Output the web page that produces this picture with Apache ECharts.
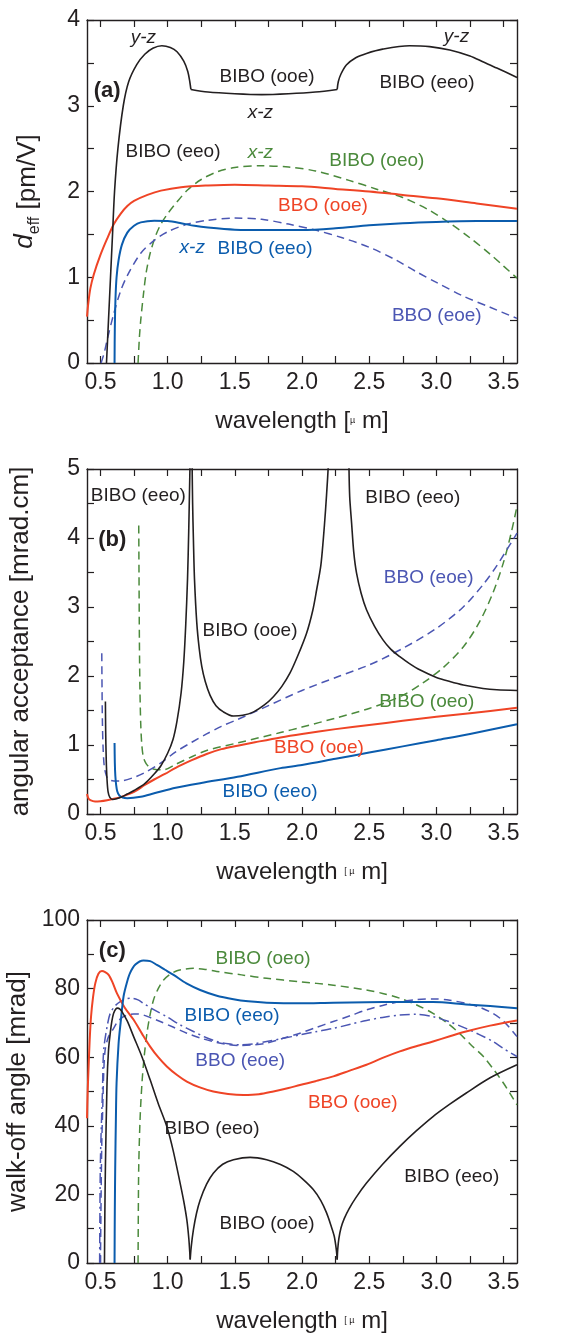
<!DOCTYPE html>
<html><head><meta charset="utf-8">
<script src="https://cdn.jsdelivr.net/npm/echarts@6/dist/echarts.min.js"></script>
<style>html,body{margin:0;padding:0;background:#fff}#c{width:561px;height:1340px}</style>
</head><body><div id="c"></div>
<script>
// ---------- axis ticks ----------
const xTickVals = [0.5,0.75,1.0,1.25,1.5,1.75,2.0,2.25,2.5,2.75,3.0,3.25,3.5];
const xLabelVals = [0.5,1.0,1.5,2.0,2.5,3.0,3.5];

// ---------- panel (a): d_eff [pm/V] ----------
const aBlackYZ1 = [[0.545,0],[0.56,0.5],[0.575,1.0],[0.59,1.5],[0.605,2.0],[0.63,2.5],[0.67,3.0],[0.71,3.28],[0.77,3.48],[0.83,3.6],[0.89,3.67],[0.957,3.70],[1.02,3.68],[1.07,3.63],[1.12,3.52],[1.15,3.40],[1.165,3.28],[1.173,3.19]];
const aBlackXZ  = [[1.173,3.19],[1.3,3.16],[1.5,3.14],[1.7,3.13],[1.9,3.14],[2.1,3.16],[2.262,3.19]];
const aBlackYZ2 = [[2.262,3.19],[2.27,3.28],[2.29,3.37],[2.33,3.475],[2.4,3.56],[2.48,3.61],[2.6,3.66],[2.8,3.70],[2.95,3.69],[3.1,3.65],[3.25,3.58],[3.35,3.51],[3.45,3.44],[3.6,3.33]];
const aRed      = [[0.4,0.54],[0.41,0.7],[0.425,0.87],[0.45,1.03],[0.5,1.26],[0.55,1.45],[0.6,1.62],[0.65,1.74],[0.7,1.83],[0.75,1.89],[0.85,1.96],[0.95,2.01],[1.1,2.05],[1.3,2.07],[1.5,2.08],[1.75,2.07],[2.0,2.06],[2.25,2.03],[2.5,2.0],[2.75,1.96],[3.0,1.92],[3.3,1.86],[3.6,1.80]];
const aBlue     = [[0.605,0],[0.607,0.4],[0.612,0.75],[0.62,1.0],[0.635,1.2],[0.66,1.38],[0.7,1.52],[0.75,1.6],[0.8,1.64],[0.9,1.66],[1.0,1.655],[1.1,1.63],[1.2,1.6],[1.3,1.58],[1.5,1.555],[1.75,1.55],[2.0,1.55],[2.25,1.57],[2.5,1.605],[2.75,1.63],[3.0,1.645],[3.3,1.655],[3.6,1.656]];
const aBlueDash = [[0.505,0],[0.53,0.13],[0.55,0.27],[0.6,0.58],[0.65,0.84],[0.7,1.02],[0.8,1.28],[0.9,1.43],[1.0,1.53],[1.15,1.62],[1.3,1.665],[1.5,1.69],[1.7,1.675],[1.9,1.62],[2.1,1.55],[2.3,1.46],[2.5,1.35],[2.7,1.2],[2.85,1.065],[3.0,0.94],[3.2,0.78],[3.4,0.65],[3.6,0.52]];
const aGreen    = [[0.78,0],[0.79,0.3],[0.8,0.5],[0.82,0.8],[0.84,1.05],[0.87,1.28],[0.91,1.48],[0.95,1.62],[1.0,1.74],[1.07,1.88],[1.15,2.02],[1.25,2.14],[1.37,2.23],[1.5,2.28],[1.7,2.30],[1.9,2.285],[2.1,2.24],[2.35,2.13],[2.55,2.03],[2.75,1.93],[2.95,1.78],[3.1,1.63],[3.25,1.46],[3.4,1.27],[3.5,1.13],[3.6,0.99]];

// ---------- panel (b): angular acceptance [mrad.cm] ----------
const bBlackEeo1 = [[0.537,1.63],[0.539,1.2],[0.543,0.8],[0.549,0.5],[0.557,0.32],[0.57,0.24],[0.59,0.21],[0.62,0.22],[0.66,0.25],[0.7,0.29],[0.75,0.34],[0.83,0.44],[0.9,0.58],[0.95,0.7],[1.0,0.88],[1.04,1.08],[1.07,1.35],[1.1,1.75],[1.12,2.2],[1.135,2.75],[1.148,3.4],[1.157,4.1],[1.163,4.7],[1.167,5.1]];
const bBlackOoe  = [[1.182,5.1],[1.186,4.5],[1.192,3.97],[1.2,3.4],[1.217,2.77],[1.235,2.4],[1.254,2.14],[1.28,1.92],[1.316,1.72],[1.36,1.57],[1.415,1.48],[1.49,1.42],[1.56,1.43],[1.64,1.48],[1.72,1.58],[1.787,1.70],[1.85,1.85],[1.91,2.04],[1.97,2.3],[2.034,2.62],[2.08,2.95],[2.109,3.25],[2.14,3.6],[2.158,3.97],[2.175,4.4],[2.19,4.85],[2.197,5.1]];
const bBlackEeo2 = [[2.349,5.1],[2.355,4.6],[2.369,4.22],[2.385,3.8],[2.406,3.49],[2.44,3.2],[2.48,2.96],[2.54,2.72],[2.604,2.52],[2.66,2.39],[2.728,2.28],[2.8,2.18],[2.876,2.09],[3.0,1.98],[3.1,1.92],[3.2,1.87],[3.347,1.82],[3.45,1.80],[3.6,1.79]];
const bRed       = [[0.4,0.29],[0.41,0.23],[0.425,0.2],[0.46,0.18],[0.5,0.185],[0.55,0.2],[0.6,0.22],[0.65,0.245],[0.7,0.28],[0.75,0.32],[0.83,0.42],[0.9,0.5],[0.98,0.58],[1.06,0.67],[1.18,0.78],[1.29,0.87],[1.4,0.94],[1.52,0.99],[1.65,1.04],[1.84,1.11],[2.0,1.16],[2.25,1.23],[2.5,1.29],[2.75,1.35],[3.0,1.41],[3.25,1.46],[3.6,1.54]];
const bBlue      = [[0.605,1.03],[0.607,0.75],[0.611,0.55],[0.617,0.42],[0.625,0.33],[0.64,0.27],[0.665,0.24],[0.7,0.23],[0.8,0.25],[0.9,0.3],[1.06,0.38],[1.25,0.45],[1.52,0.54],[1.84,0.665],[2.0,0.71],[2.25,0.8],[2.5,0.89],[2.75,0.98],[3.0,1.07],[3.25,1.16],[3.6,1.3]];
const bBlueDash  = [[0.51,2.33],[0.512,1.8],[0.515,1.3],[0.52,0.95],[0.528,0.7],[0.543,0.56],[0.56,0.5],[0.6,0.48],[0.65,0.48],[0.75,0.53],[0.83,0.6],[0.95,0.74],[1.06,0.9],[1.18,1.04],[1.29,1.16],[1.4,1.27],[1.52,1.37],[1.75,1.57],[2.0,1.79],[2.28,2.0],[2.5,2.16],[2.75,2.4],[3.0,2.69],[3.2,3.0],[3.35,3.33],[3.45,3.6],[3.6,4.07]];
const bGreen     = [[0.785,4.18],[0.787,3.5],[0.79,2.5],[0.794,1.8],[0.8,1.3],[0.808,1.0],[0.82,0.82],[0.84,0.73],[0.864,0.68],[0.9,0.65],[0.968,0.64],[1.06,0.72],[1.18,0.83],[1.29,0.92],[1.52,1.03],[1.84,1.18],[2.0,1.26],[2.25,1.39],[2.5,1.53],[2.75,1.72],[2.9,1.9],[3.05,2.12],[3.2,2.42],[3.32,2.78],[3.42,3.2],[3.5,3.65],[3.56,4.1],[3.6,4.46]];

// ---------- panel (c): walk-off angle [mrad] ----------
const cBlackEeo1 = [[0.53,0],[0.533,15],[0.537,28],[0.549,52.4],[0.56,62],[0.573,67],[0.585,70.5],[0.598,72.8],[0.613,74],[0.628,74.3],[0.645,74],[0.66,73.3],[0.7,70.5],[0.747,66],[0.81,60],[0.87,53.4],[0.93,46.5],[0.994,39.8],[1.04,33],[1.093,23.3],[1.12,18],[1.143,12.6],[1.158,7],[1.168,1.0]];
const cBlackOoe  = [[1.168,1.0],[1.175,4.5],[1.192,9.7],[1.215,14.5],[1.242,18.4],[1.29,23],[1.34,26.2],[1.41,28.8],[1.49,30.1],[1.614,30.8],[1.737,30.1],[1.84,28.7],[1.935,26.7],[2.01,24.3],[2.084,21.4],[2.14,18.2],[2.183,14.6],[2.215,11],[2.24,7.8],[2.255,4],[2.262,1.0]];
const cBlackEeo2 = [[2.262,1.0],[2.266,4.0],[2.274,7.0],[2.29,10.2],[2.315,13.0],[2.35,15.8],[2.4,19.0],[2.48,23.3],[2.6,28.8],[2.728,34],[2.85,38.5],[2.975,42.7],[3.1,46.3],[3.22,49.5],[3.4,54],[3.6,57.8]];
const cRed       = [[0.4,42.2],[0.405,50],[0.412,57.3],[0.42,65],[0.43,71.8],[0.445,77.5],[0.462,81.6],[0.485,84.3],[0.511,85.1],[0.535,84.8],[0.561,84.0],[0.59,81.8],[0.623,78.6],[0.68,74.5],[0.747,70.9],[0.81,66.8],[0.87,63.1],[0.93,60.0],[0.994,57.3],[1.07,54.8],[1.143,52.9],[1.24,51.2],[1.34,50.0],[1.45,49.3],[1.564,49.0],[1.68,49.2],[1.787,50.0],[1.9,51.0],[1.985,51.9],[2.1,53.0],[2.233,54.4],[2.35,56.0],[2.48,57.8],[2.6,59.8],[2.728,61.7],[2.85,63.2],[2.975,64.6],[3.1,66.1],[3.22,67.5],[3.4,69.2],[3.6,70.7]];
const cBlue      = [[0.605,0],[0.607,15],[0.61,28],[0.615,42],[0.62,52.4],[0.635,64],[0.65,70],[0.672,77.7],[0.695,81.5],[0.72,84.5],[0.76,87],[0.82,88.2],[0.87,88],[0.92,86.9],[0.98,85.5],[1.044,84],[1.14,81.5],[1.242,79.6],[1.36,78],[1.49,76.9],[1.6,76.3],[1.737,75.9],[1.985,75.7],[2.233,75.9],[2.48,76.0],[2.728,76.1],[2.975,76.1],[3.22,75.4],[3.4,74.9],[3.6,74.3]];
const cGreen     = [[0.78,0],[0.782,15],[0.785,28],[0.795,42],[0.809,52.4],[0.825,60],[0.846,67],[0.87,72.5],[0.895,76.7],[0.93,80],[0.97,82.5],[1.02,84.2],[1.069,85.2],[1.13,85.7],[1.192,85.9],[1.28,85.6],[1.366,85],[1.55,84],[1.737,83],[1.985,82],[2.233,81],[2.48,79.6],[2.6,78.6],[2.728,77.2],[2.85,75.3],[2.975,72.8],[3.08,70],[3.17,67],[3.26,63.5],[3.35,60.2],[3.43,56.2],[3.5,52.4],[3.55,49.3],[3.6,46.1]];
const cBlueDashDot = [[0.494,0],[0.497,20],[0.5,30],[0.505,37.9],[0.515,50],[0.524,62],[0.55,69],[0.573,72.8],[0.61,75],[0.648,76.2],[0.69,77],[0.734,77.2],[0.78,76.7],[0.82,75.7],[0.9,73.8],[0.994,71.8],[1.09,69.5],[1.192,67.5],[1.28,65.8],[1.366,64.6],[1.45,63.9],[1.54,63.6],[1.64,63.9],[1.737,64.6],[1.86,65.5],[1.985,66.5],[2.1,67.4],[2.233,68.4],[2.36,69.6],[2.48,70.7],[2.6,71.6],[2.728,72.3],[2.85,72.5],[2.975,71.8],[3.1,70.3],[3.22,68.4],[3.32,66.6],[3.42,64.6],[3.5,62.5],[3.6,60.2]];
const cBlueDash  = [[0.5,0],[0.505,20],[0.51,35],[0.517,45],[0.524,55],[0.535,62.1],[0.56,66],[0.598,68.4],[0.63,70.5],[0.672,71.8],[0.71,72.4],[0.747,72.6],[0.78,72.6],[0.82,72.3],[0.88,71.4],[0.945,70.4],[1.04,68.8],[1.143,67],[1.25,65.5],[1.366,64.3],[1.45,63.7],[1.54,63.4],[1.64,63.6],[1.737,64.1],[1.86,65.5],[1.985,67],[2.1,68.6],[2.233,70.4],[2.36,72.1],[2.48,73.8],[2.6,75.1],[2.728,76.2],[2.85,76.8],[2.975,77],[3.1,76.6],[3.22,75.7],[3.32,74.6],[3.42,72.8],[3.5,70.5],[3.6,66]];

// ---------- annotations [lambda, value, text, colour key, style] ----------
const aNotes = [[0.82,3.79,'y-z','k','i'],[3.15,3.81,'y-z','k','i'],[1.74,3.335,'BIBO (ooe)','k',''],[2.93,3.265,'BIBO (eeo)','k',''],[0.55,3.17,'(a)','k','b'],[1.69,2.915,'x-z','k','i'],[1.04,2.46,'BIBO (eeo)','k',''],[1.69,2.45,'x-z','g','i'],[2.557,2.356,'BIBO (oeo)','g',''],[2.156,1.83,'BBO (ooe)','r',''],[1.183,1.34,'x-z','b','i'],[1.725,1.33,'BIBO (eeo)','b',''],[3.003,0.548,'BBO (eoe)','p','']];
const bNotes = [[0.782,4.61,'BIBO (eeo)','k',''],[0.588,3.97,'(b)','k','b'],[1.613,2.65,'BIBO (ooe)','k',''],[2.824,4.59,'BIBO (eeo)','k',''],[2.943,3.43,'BBO (eoe)','p',''],[2.928,1.62,'BIBO (oeo)','g',''],[2.126,0.957,'BBO (ooe)','r',''],[1.762,0.32,'BIBO (eeo)','b','']];
const cNotes = [[0.588,91,'(c)','k','b'],[1.71,88.6,'BIBO (oeo)','g',''],[1.48,72.0,'BIBO (eeo)','b',''],[1.54,58.9,'BBO (eoe)','p',''],[2.378,46.7,'BBO (ooe)','r',''],[1.33,39.1,'BIBO (eeo)','k',''],[1.74,11.4,'BIBO (ooe)','k',''],[3.114,25.1,'BIBO (eeo)','k','']];

// ---------- styling ----------
const FONT = '"Liberation Sans", Arial, Helvetica, sans-serif';
const INK = '#231f20';
const COL = {k: INK, r: '#ef4426', b: '#0b5cad', p: '#4b56b3', g: '#4b8a3c'};
const grids = [
  {left: 87, top: 20, width: 430, height: 343},
  {left: 87, top: 469, width: 430, height: 345},
  {left: 87, top: 920, width: 430, height: 343}
];
const yMax = [4, 5, 100], yInt = [1, 1, 20];
const yNames = ['{i|d}{s|eff} [pm/V]', 'angular acceptance [mrad.cm]', 'walk-off angle [mrad]'];
const yGaps = [44, 53, 54];
const xNames = ['wavelength [{m|µ} m]', 'wavelength {m|[ µ} m]', 'wavelength {m|[ µ} m]'];

const xAxes = [], yAxes = [];
for (let p = 0; p < 3; p++) {
  const line = {show: true, onZero: false, lineStyle: {color: INK, width: 1.4}};
  const tick = {show: true, inside: true, length: 7, customValues: xTickVals, lineStyle: {color: INK, width: 1.2}};
  xAxes.push({
    type: 'value', gridIndex: p, min: 0.4, max: 3.6, position: 'bottom',
    axisLine: line, axisTick: tick, splitLine: {show: false},
    axisLabel: {show: true, customValues: xLabelVals, formatter: v => (+v).toFixed(1), fontSize: 23, color: INK, fontFamily: FONT, margin: 8},
    name: xNames[p], nameLocation: 'middle', nameGap: 46,
    nameTextStyle: {fontSize: 24, color: INK, fontFamily: FONT, rich: {m: {fontSize: 9, color: INK, fontFamily: FONT}}}
  });
  xAxes.push({
    type: 'value', gridIndex: p, min: 0.4, max: 3.6, position: 'top',
    axisLine: line, axisTick: tick, splitLine: {show: false}, axisLabel: {show: false}
  });
  const ytick = {show: true, inside: true, length: 7, lineStyle: {color: INK, width: 1.2}};
  const ymin = {show: true, splitNumber: 2, length: 7, lineStyle: {color: INK, width: 1.2}};
  yAxes.push({
    type: 'value', gridIndex: p, min: 0, max: yMax[p], interval: yInt[p], position: 'left',
    axisLine: line, axisTick: ytick, minorTick: ymin, splitLine: {show: false}, minorSplitLine: {show: false},
    axisLabel: {fontSize: 23, color: INK, fontFamily: FONT, margin: 7},
    name: yNames[p], nameLocation: 'middle', nameRotate: 90, nameGap: yGaps[p],
    nameTextStyle: {fontSize: 26, color: INK, fontFamily: FONT,
      rich: {i: {fontSize: 26, fontStyle: 'italic', color: INK, fontFamily: FONT, lineHeight: 30, verticalAlign: 'top'},
             s: {fontSize: 16, color: INK, fontFamily: FONT, padding: [15, 0, 0, 0], verticalAlign: 'top'}}}
  });
  yAxes.push({
    type: 'value', gridIndex: p, min: 0, max: yMax[p], interval: yInt[p], position: 'right',
    axisLine: line, axisTick: ytick, minorTick: ymin, splitLine: {show: false}, minorSplitLine: {show: false},
    axisLabel: {show: false}
  });
}

function ser(p, data, color, width, type, z) {
  return {type: 'line', xAxisIndex: 2 * p, yAxisIndex: 2 * p, data: data, symbol: 'none', showSymbol: false,
    smooth: 0.3, clip: true, z: z || 2, silent: true,
    lineStyle: {color: color, width: width, type: type || 'solid', join: 'round', cap: 'butt'}};
}
const DASH = [8, 5], DASHDOT = [10, 4, 2, 4];
const series = [
  ser(0, aGreen, COL.g, 1.5, DASH), ser(0, aBlueDash, COL.p, 1.5, DASH),
  ser(0, aRed, COL.r, 2), ser(0, aBlue, COL.b, 2),
  ser(0, aBlackYZ1, COL.k, 1.6), ser(0, aBlackXZ, COL.k, 1.6), ser(0, aBlackYZ2, COL.k, 1.6),

  ser(1, bGreen, COL.g, 1.5, DASH), ser(1, bBlueDash, COL.p, 1.5, DASH),
  ser(1, bRed, COL.r, 2), ser(1, bBlue, COL.b, 2),
  ser(1, bBlackEeo1, COL.k, 1.6), ser(1, bBlackOoe, COL.k, 1.6), ser(1, bBlackEeo2, COL.k, 1.6),

  ser(2, cGreen, COL.g, 1.5, DASH), ser(2, cBlueDash, COL.p, 1.5, DASH), ser(2, cBlueDashDot, COL.p, 1.5, DASHDOT),
  ser(2, cRed, COL.r, 2), ser(2, cBlue, COL.b, 2),
  ser(2, cBlackEeo1, COL.k, 1.6), ser(2, cBlackOoe, COL.k, 1.6), ser(2, cBlackEeo2, COL.k, 1.6)
];

const chart = echarts.init(document.getElementById('c'), null, {renderer: 'canvas', width: 561, height: 1340});
chart.setOption({
  animation: false, backgroundColor: '#ffffff',
  grid: grids.map(g => Object.assign({containLabel: false, outerBoundsMode: 'none'}, g)),
  xAxis: xAxes, yAxis: yAxes, series: series
});

const graphics = [];
[aNotes, bNotes, cNotes].forEach((notes, p) => {
  notes.forEach(n => {
    const pt = chart.convertToPixel({xAxisIndex: 2 * p, yAxisIndex: 2 * p}, [n[0], n[1]]);
    const bold = n[4] === 'b', ital = n[4] === 'i';
    graphics.push({type: 'text', x: pt[0], y: pt[1], z: 50, silent: true,
      style: {text: n[2], fill: COL[n[3]], font: (ital ? 'italic ' : '') + (bold ? 'bold ' : '') + (bold ? 22 : 19) + 'px ' + FONT,
        textAlign: 'center', textVerticalAlign: 'middle', align: 'center', verticalAlign: 'middle'}});
  });
});
chart.setOption({graphic: graphics});
</script></body></html>
